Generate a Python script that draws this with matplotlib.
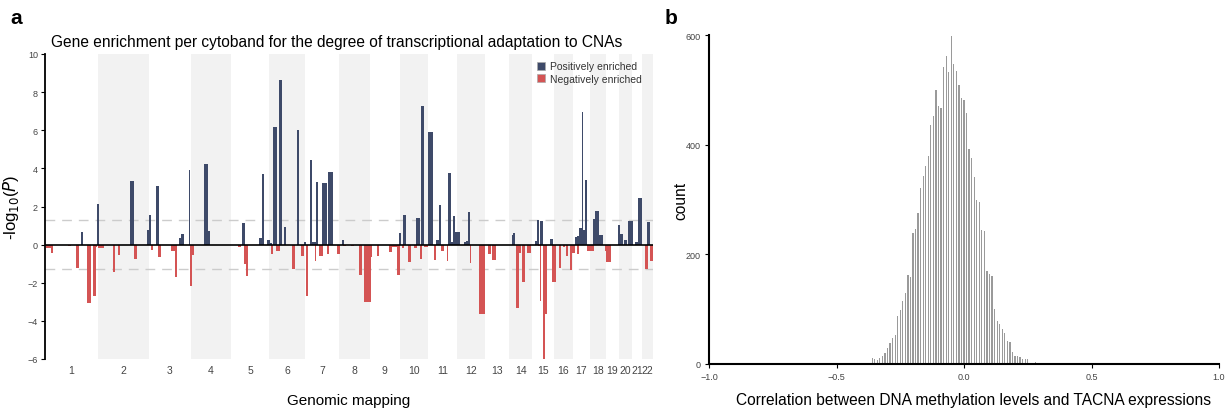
import numpy as np
import matplotlib.pyplot as plt
from matplotlib.patches import Patch

plt.rcParams['font.family'] = ['Liberation Sans', 'DejaVu Sans']

# hg19 chromosome lengths (Mb), chr1..chr22
chrom_names = [str(i) for i in range(1, 23)]
chrom_len = [249.25, 243.2, 198.0, 191.15, 180.9, 171.1, 159.1, 146.4, 141.2, 135.5,
             135.0, 133.9, 115.2, 107.3, 102.5, 90.4, 81.2, 78.1, 59.1, 63.0, 48.1, 51.3]

# cytoband enrichment: genome position (Mb, cumulative) and signed -log10(P)
band_start = [3, 27, 109, 147, 169, 199, 227, 237, 245, 251, 321, 344, 403, 420,
              483, 493, 502, 526, 535, 597, 616, 635, 644, 682, 687, 696, 753, 772,
              914, 933, 943, 952, 1014, 1028, 1052, 1066, 1071, 1080, 1094, 1108,
              1132, 1170, 1194, 1213, 1227, 1236, 1255, 1265, 1279, 1284, 1298,
              1312, 1336, 1341, 1383, 1407, 1412, 1450, 1487, 1511, 1544, 1573,
              1630, 1644, 1667, 1677, 1691, 1696, 1720, 1748, 1757, 1776, 1781,
              1795, 1814, 1843, 1852, 1866, 1876, 1904, 1909, 1923, 1933, 1942,
              1952, 1985, 1994, 2004, 2013, 2056, 2099, 2117, 2212, 2217, 2231,
              2245, 2260, 2283, 2321, 2331, 2336, 2345, 2345, 2359, 2367, 2392,
              2402, 2435, 2454, 2468, 2487, 2496, 2511, 2520, 2520, 2530, 2544,
              2551, 2558, 2567, 2596, 2605, 2624, 2653, 2658, 2714, 2724, 2743,
              2762, 2795, 2809, 2842, 2852, 2866]
band_end = [28, 38, 123, 161, 180, 218, 242, 248, 256, 279, 332, 355, 422, 436,
            493, 502, 512, 540, 549, 616, 625, 644, 658, 687, 696, 706, 772, 782,
            928, 947, 952, 962, 1028, 1037, 1066, 1075, 1080, 1099, 1113, 1123,
            1142, 1184, 1203, 1227, 1236, 1246, 1265, 1284, 1284, 1293, 1317,
            1336, 1345, 1364, 1397, 1416, 1426, 1464, 1502, 1544, 1549, 1582,
            1644, 1667, 1682, 1686, 1701, 1710, 1734, 1762, 1776, 1786, 1795,
            1814, 1838, 1852, 1866, 1876, 1890, 1909, 1923, 1933, 1942, 1952,
            1966, 1994, 2004, 2013, 2018, 2084, 2113, 2136, 2217, 2226, 2245,
            2255, 2274, 2302, 2331, 2340, 2345, 2350, 2359, 2367, 2378, 2406,
            2421, 2444, 2463, 2477, 2496, 2511, 2520, 2530, 2530, 2544, 2551,
            2558, 2567, 2601, 2605, 2624, 2643, 2658, 2681, 2724, 2738, 2757,
            2786, 2809, 2828, 2856, 2866, 2880]
log_p = [-0.17, -0.45, -0.07, -1.24, 0.65, -3.08, -2.71, -0.15, 2.12, -0.19,
         -1.45, -0.56, 3.32, -0.77, 0.75, 1.56, -0.30, 3.08, -0.66, -0.33, -1.71,
         0.33, 0.54, 3.90, -2.17, -0.56, 4.21, 0.70, -0.14, 1.12, -1.00, -1.63,
         0.33, 3.69, 0.23, 0.09, -0.49, 6.15, -0.33, 8.62, 0.91, -1.29, 6.00,
         -0.59, 0.12, -2.71, 4.42, 0.12, -0.87, 3.27, -0.61, 3.22, -0.49, 3.79,
         -0.49, 0.23, -0.07, -0.07, -1.61, -3.02, -0.66, -0.61, -0.40, -0.14,
         -1.61, 0.59, -0.19, 1.54, -0.93, -0.19, 1.38, -0.77, 7.26, -0.14, 5.89,
         -0.82, 0.23, 2.06, -0.35, -0.87, 3.74, 0.12, 1.49, 0.65, 0.65, 0.12,
         0.17, 1.70, -0.98, -3.65, -0.51, -0.82, 0.49, 0.59, -3.34, -0.45, -1.98,
         -0.45, 0.17, 1.28, -0.09, -2.97, 1.22, -6.00, -3.65, 0.28, -1.98, -1.24,
         -0.14, -0.61, -1.35, -0.45, 0.38, 0.44, -0.51, 0.86, 6.94, 0.75, 3.37,
         -0.35, 1.33, 1.75, 0.49, -0.35, -0.93, 1.01, 0.54, 0.23, 1.22, 0.12,
         2.43, -1.29, 1.17, -0.87]

# correlation histogram (bin width 0.01)
corr_bin_left = -0.46
corr_counts = [2, 0, 0, 0, 1, 0, 1, 0, 0, 0,
               11, 9, 7, 11, 14, 20, 29, 38, 48, 52, 88, 98, 115, 130, 162, 159,
               238, 246, 276, 321, 342, 361, 379, 435, 452, 499, 470, 467, 542,
               562, 532, 598, 548, 535, 509, 485, 482, 458, 392, 376, 341, 300,
               295, 244, 243, 170, 165, 161, 100, 78, 73, 64, 56, 42, 40, 22, 15,
               14, 13, 10, 9, 9, 0, 0, 3]

pos_color = '#3e4a69'
neg_color = '#d45454'
sig = -np.log10(0.05)

fig = plt.figure(figsize=(12.3, 4.1), dpi=100)

# ---- panel a ----
ax = fig.add_axes([45 / 1230, 1 - 360 / 410, 608 / 1230, 305 / 410])
edges = np.concatenate([[0], np.cumsum(chrom_len)])
for i in range(22):
    if i % 2 == 1:
        ax.axvspan(edges[i], edges[i + 1], color='#f2f2f2', lw=0, zorder=0)

start = np.array(band_start, dtype=float)
end = np.array(band_end, dtype=float)
vals = np.array(log_p)
up = vals > 0
ax.bar(start[up], vals[up], width=(end - start)[up], align='edge',
       color=pos_color, lw=0, zorder=2)
ax.bar(start[~up], vals[~up], width=(end - start)[~up], align='edge',
       color=neg_color, lw=0, zorder=2)

ax.axhline(0, color='black', lw=1.2, zorder=3)
for yy in (sig, -sig):
    ax.axhline(yy, color='#cccccc', lw=1, ls=(0, (7, 5)), zorder=1)

ax.set_xlim(0, edges[-1])
ax.set_ylim(-6, 10)
ax.set_yticks(np.arange(-6, 11, 2))
ax.set_yticklabels([str(v).replace('-', '\u2212') for v in range(-6, 11, 2)])
ax.set_xticks((edges[:-1] + edges[1:]) / 2)
ax.set_xticklabels(chrom_names)
ax.tick_params(axis='x', length=0, labelsize=7.5, labelcolor='#444444', pad=4)
ax.tick_params(axis='y', length=3, width=0.8, labelsize=6.5, labelcolor='#444444', pad=2)
for s in ('top', 'right', 'bottom'):
    ax.spines[s].set_visible(False)
ax.spines['left'].set_linewidth(1.3)
ax.set_ylabel(r'-log$_{10}$($\it{P}$)', fontsize=12, labelpad=5)
ax.set_xlabel('Genomic mapping', fontsize=11, labelpad=13)
ax.set_title('Gene enrichment per cytoband for the degree of transcriptional adaptation to CNAs',
             fontsize=11.2, pad=6, x=0.48)
handles = [Patch(facecolor=pos_color, edgecolor='#aaaaaa', lw=0.5, label='Positively enriched'),
           Patch(facecolor=neg_color, edgecolor='#aaaaaa', lw=0.5, label='Negatively enriched')]
leg = ax.legend(handles=handles, loc='upper right', bbox_to_anchor=(0.988, 0.99),
                frameon=False, fontsize=7.5, handlelength=0.8, handleheight=0.8,
                handletextpad=0.4, labelspacing=0.25, borderaxespad=0)
for t in leg.get_texts():
    t.set_color('#333333')

# ---- panel b ----
bx = fig.add_axes([709 / 1230, 1 - 365 / 410, 510 / 1230, 329 / 410])
centers = corr_bin_left + 0.01 * np.arange(len(corr_counts))
bx.bar(centers, corr_counts, width=0.005, color='#9a9a9a', lw=0)
bx.set_xlim(-1, 1)
bx.set_ylim(0, 600)
bx.set_xticks([-1, -0.5, 0, 0.5, 1])
bx.set_xticklabels(['\u22121.0', '\u22120.5', '0.0', '0.5', '1.0'])
bx.set_yticks([0, 200, 400, 600])
bx.tick_params(length=3, width=0.8, labelsize=6.5, labelcolor='#444444', pad=3)
for s in ('top', 'right'):
    bx.spines[s].set_visible(False)
bx.spines['left'].set_linewidth(1.5)
bx.spines['bottom'].set_linewidth(1.5)
bx.set_ylabel('count', fontsize=11.2, labelpad=-2)
bx.set_xlabel('Correlation between DNA methylation levels and TACNA expressions',
              fontsize=11.2, labelpad=8)
bx.xaxis.set_label_coords(0.518, -0.085)

fig.text(10 / 1230, 1 - 18 / 410, 'a', fontsize=15, fontweight='bold', va='center')
fig.text(665 / 1230, 1 - 18 / 410, 'b', fontsize=15, fontweight='bold', va='center')

plt.savefig('out.png', dpi=100)
